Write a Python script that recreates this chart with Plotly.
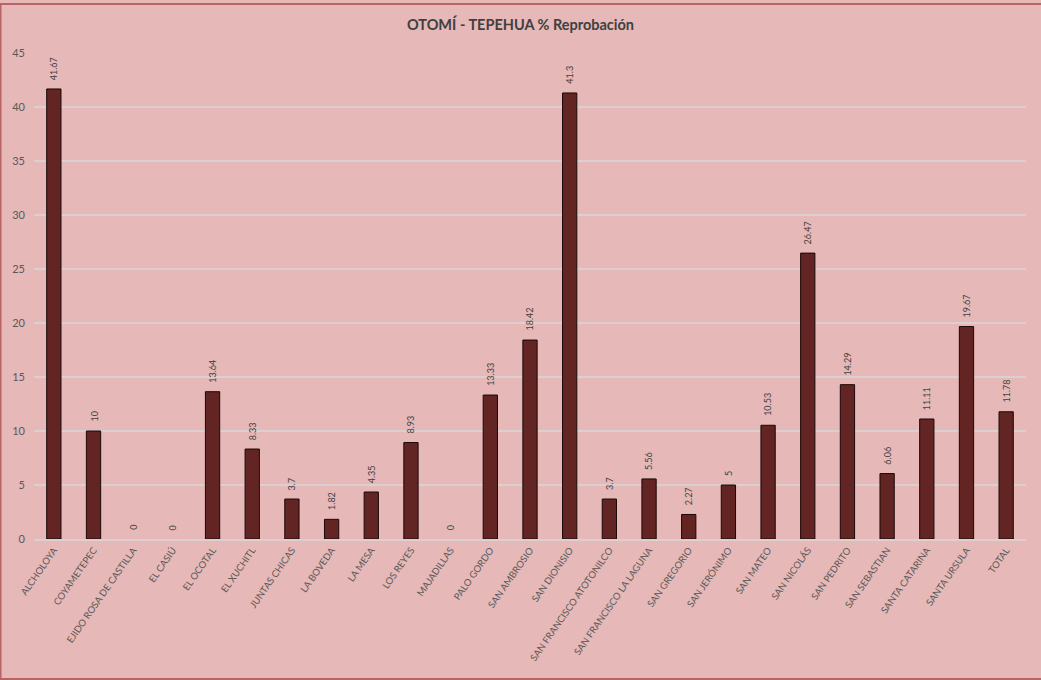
import plotly.graph_objects as go

categories = ["ALCHOLOYA", "COYAMETEPEC", "EJIDO ROSA DE CASTILLA", "EL CASIÚ", "EL OCOTAL",
              "EL XUCHITL", "JUNTAS CHICAS", "LA BOVEDA", "LA MESA", "LOS REYES", "MAJADILLAS",
              "PALO GORDO", "SAN AMBROSIO", "SAN DIONISIO", "SAN FRANCISCO ATOTONILCO",
              "SAN FRANCISCO LA LAGUNA", "SAN GREGORIO", "SAN JERÓNIMO", "SAN MATEO",
              "SAN NICOLÁS", "SAN PEDRITO", "SAN SEBASTIAN", "SANTA CATARINA", "SANTA URSULA", "TOTAL"]
values = [41.67, 10, 0, 0, 13.64, 8.33, 3.7, 1.82, 4.35, 8.93, 0, 13.33, 18.42, 41.3,
          3.7, 5.56, 2.27, 5, 10.53, 26.47, 14.29, 6.06, 11.11, 19.67, 11.78]
labels = [f"{v:g}" for v in values]
y_ticks = [0, 5, 10, 15, 20, 25, 30, 35, 40, 45]

W, H = 1041, 680
ML, MR, MT, MB = 34, 15, 53, 141
BG = "#E6B8B7"
FONT = "Lato, Open Sans, sans-serif"

fig = go.Figure(go.Bar(
    x=categories, y=values,
    marker=dict(color="#632523",
                line=dict(color="#1a0808", width=[1 if v > 0 else 0 for v in values])),
    width=0.36,
))

annotations = [dict(x=c, y=v, text=t, textangle=-90, showarrow=False,
                    xanchor="center", yanchor="bottom", yshift=7,
                    font=dict(size=9, color="#404040", family=FONT))
               for c, v, t in zip(categories, values, labels)]

fig.update_layout(
    width=W, height=H,
    margin=dict(l=ML, r=MR, t=MT, b=MB, autoexpand=False),
    paper_bgcolor=BG, plot_bgcolor=BG,
    showlegend=False,
    font=dict(family=FONT, color="#595959"),
    title=dict(text="<b>OTOMÍ - TEPEHUA % Reprobación</b>", x=0.5, xref="container",
               y=1 - 25 / H, yref="container", yanchor="middle", xanchor="center",
               font=dict(size=14.5, color="#404040", family=FONT)),
    xaxis=dict(tickangle=-55, tickfont=dict(size=9.5, color="#595959"), automargin=False,
               showgrid=False, showline=True, linecolor="#DCCFCF", linewidth=2,
               ticks="", range=[-0.5, len(categories) - 0.5]),
    yaxis=dict(range=[0, 45], tickvals=y_ticks, showgrid=True, gridcolor="#DCCFCF",
               gridwidth=1.5, zeroline=False, tickfont=dict(size=11, color="#595959"),
               ticks="", showline=False, automargin=False, ticklabelstandoff=8),
    annotations=annotations,
    shapes=[dict(type="rect", xref="paper", yref="paper",
                 x0=-(ML - 0.5) / (W - ML - MR), x1=1 + (MR + 5) / (W - ML - MR),
                 y0=-(MB - 1) / (H - MT - MB), y1=1 + (MT - 4) / (H - MT - MB),
                 line=dict(color="#B86464", width=2), layer="below")],
)

fig.write_html("out.html", config={"displayModeBar": False},
               post_script="document.body.style.margin='0';")
